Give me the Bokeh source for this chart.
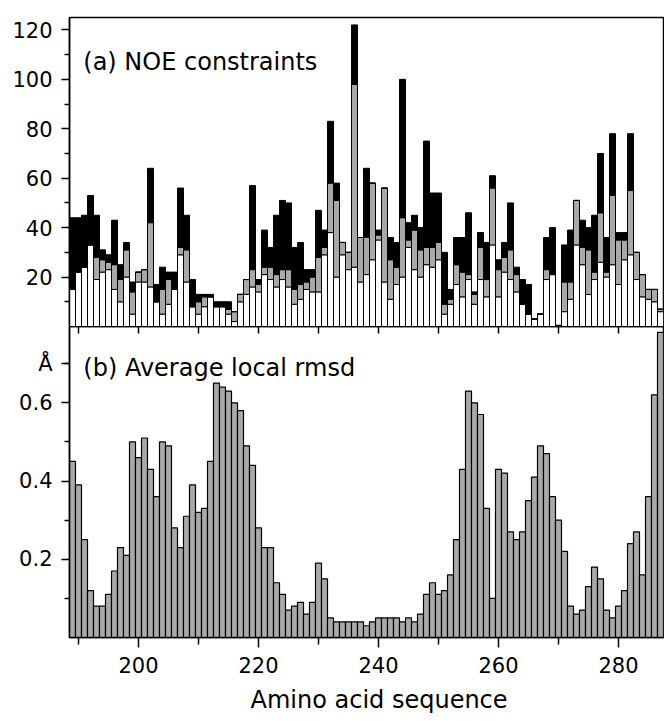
from bokeh.plotting import figure
from bokeh.layouts import column
from bokeh.models import FixedTicker, LinearAxis, Label, Title, Range1d, ColumnDataSource
from bokeh.embed import file_html
from bokeh.resources import INLINE

residues = list(range(189, 288))

noe_white = [15, 22, 24, 33, 19, 22, 23, 15, 10, 20,
             5, 18, 18, 16, 10, 5, 9, 15, 29, 18,
             8, 5, 8, 12, 8, 8, 5, 2, 10, 13,
             16, 14, 21, 19, 16, 19, 16, 9, 11, 15,
             14, 14, 29, 38, 20, 29, 23, 24, 18, 21,
             27, 35, 18, 11, 17, 20, 32, 23, 20, 25,
             24, 27, 5, 9, 17, 12, 19, 9, 19, 12,
             33, 12, 22, 19, 14, 9, 5, 3, 5, 19,
             21, 0, 6, 11, 33, 25, 13, 19, 26, 20,
             25, 17, 27, 29, 19, 12, 11, 10, 6]
noe_gray = [0, 0, 0, 0, 9, 5, 3, 10, 9, 11,
            9, 4, 5, 26, 0, 10, 10, 0, 3, 13,
            0, 5, 4, 0, 0, 0, 2, 4, 3, 6,
            7, 3, 3, 5, 5, 4, 7, 6, 6, 3,
            6, 14, 3, 20, 31, 5, 7, 74, 18, 15,
            31, 2, 38, 16, 7, 24, 3, 16, 11, 7,
            8, 7, 4, 2, 8, 10, 2, 4, 13, 7,
            23, 11, 6, 12, 7, 0, 0, 0, 0, 4,
            0, 0, 12, 7, 18, 7, 18, 3, 20, 2,
            28, 18, 8, 26, 11, 9, 4, 5, 1]
noe_black = [29, 22, 21, 20, 17, 4, 3, 18, 6, 3,
             4, 0, 0, 22, 7, 9, 3, 7, 24, 14,
             11, 3, 1, 1, 2, 2, 3, 0, 0, 0,
             34, 2, 15, 8, 24, 28, 27, 17, 17, 5,
             3, 19, 7, 25, 7, 0, 0, 24, 0, 28,
             0, 2, 0, 9, 10, 56, 7, 6, 9, 43,
             22, 20, 21, 4, 11, 14, 25, 1, 6, 15,
             5, 4, 6, 19, 3, 10, 12, 0, 0, 13,
             19, 0, 15, 21, 0, 11, 9, 23, 24, 14,
             25, 3, 3, 23, 0, 0, 0, 0, 0]

rmsd = [0.45, 0.39, 0.25, 0.12, 0.08, 0.08, 0.11, 0.17, 0.23, 0.21,
        0.50, 0.46, 0.51, 0.43, 0.36, 0.50, 0.49, 0.28, 0.23, 0.31,
        0.39, 0.32, 0.33, 0.45, 0.65, 0.64, 0.63, 0.60, 0.58, 0.49,
        0.44, 0.28, 0.23, 0.23, 0.14, 0.11, 0.07, 0.08, 0.09, 0.06,
        0.09, 0.19, 0.15, 0.05, 0.04, 0.04, 0.04, 0.04, 0.04, 0.03,
        0.04, 0.05, 0.05, 0.05, 0.05, 0.04, 0.05, 0.04, 0.06, 0.11,
        0.14, 0.11, 0.12, 0.16, 0.25, 0.43, 0.63, 0.60, 0.57, 0.33,
        0.10, 0.43, 0.42, 0.27, 0.25, 0.27, 0.35, 0.41, 0.49, 0.47,
        0.36, 0.30, 0.22, 0.08, 0.06, 0.07, 0.13, 0.18, 0.15, 0.07,
        0.05, 0.08, 0.12, 0.24, 0.27, 0.16, 0.36, 0.62, 0.78]

noe_ticks = [20, 40, 60, 80, 100, 120]
noe_minor = [10, 30, 50, 70, 90, 110]
rmsd_ticks = [0.2, 0.4, 0.6]
rmsd_unit_tick = 0.7
rmsd_minor = [0.1, 0.3, 0.5, 0.7]
x_ticks = [200, 220, 240, 260, 280]
x_minor = [190, 210, 230, 250, 270]
x_all = [190, 200, 210, 220, 230, 240, 250, 260, 270, 280]

FONT = "DejaVu Sans"
GRAY = "#a9a9a9"
INK = "black"

x_range = Range1d(188.5, 287.5)

# ---------- top panel ----------
p1 = figure(width=664, height=326, x_range=x_range, y_range=Range1d(0, 125),
            output_backend="svg", toolbar_location=None, x_axis_location=None,
            min_border_left=69, min_border_right=1, min_border_top=17, min_border_bottom=0)
src = ColumnDataSource(dict(x=residues, white=noe_white, gray=noe_gray, black=noe_black))
p1.vbar_stack(["white", "gray", "black"], x="x", width=1.0, source=src,
              fill_color=["white", GRAY, "black"], line_color="black", line_width=1)

# ---------- bottom panel ----------
p2 = figure(width=664, height=395, x_range=x_range, y_range=Range1d(0, 0.795),
            output_backend="svg", toolbar_location=None,
            min_border_left=69, min_border_right=1, min_border_top=0, min_border_bottom=0)
p2.vbar(x=residues, top=rmsd, width=1.0, fill_color=GRAY, line_color="black", line_width=1.2)

for p in (p1, p2):
    p.xgrid.visible = False
    p.ygrid.visible = False
    p.outline_line_color = "black"
    p.outline_line_width = 1.5
    p.background_fill_color = "white"
    p.border_fill_color = "white"
    ax = p.yaxis[0]
    ax.major_tick_out = 8
    ax.major_tick_in = 0
    ax.minor_tick_out = 5
    ax.minor_tick_in = 0
    ax.major_label_text_font = FONT
    ax.major_label_text_font_size = "21px"
    ax.major_label_text_color = INK
    ax.major_label_standoff = 9
    ax.axis_line_width = 1.5
    ax.axis_line_color = INK
    ax.major_tick_line_width = 1.5
    ax.minor_tick_line_width = 1.5
    ax.major_tick_line_color = INK
    ax.minor_tick_line_color = INK

p1.yaxis[0].ticker = FixedTicker(ticks=noe_ticks, minor_ticks=noe_minor)
p2.yaxis[0].ticker = FixedTicker(ticks=rmsd_ticks + [rmsd_unit_tick], minor_ticks=rmsd_minor)
p2.yaxis[0].major_label_overrides = {rmsd_unit_tick: "Å"}

xa = p2.xaxis[0]
xa.ticker = FixedTicker(ticks=x_ticks, minor_ticks=x_minor)
xa.major_tick_out = 10
xa.major_tick_in = 0
xa.minor_tick_out = 7
xa.minor_tick_in = 0
xa.major_label_text_font = FONT
xa.major_label_text_font_size = "21px"
xa.major_label_text_color = INK
xa.major_label_standoff = 9
xa.axis_line_width = 1.5
xa.axis_line_color = INK
xa.major_tick_line_width = 1.5
xa.minor_tick_line_width = 1.5
xa.major_tick_line_color = INK
xa.minor_tick_line_color = INK

top_axis = LinearAxis(ticker=FixedTicker(ticks=x_all), major_tick_in=7, major_tick_out=0,
                      minor_tick_in=0, minor_tick_out=0, major_label_text_font_size="0px",
                      major_label_text_color=None, major_label_text_alpha=0,
                      major_label_standoff=0, axis_line_width=1.5, major_tick_line_width=1.5,
                      axis_line_color=INK, major_tick_line_color=INK)
p2.add_layout(top_axis, "above")

p2.add_layout(Title(text="Amino acid sequence", align="left", offset=181,
                    text_font=FONT, text_font_size="24px", text_font_style="normal",
                    text_color=INK, standoff=16), "below")

p1.add_layout(Label(x=190.8, y=107, text="(a) NOE constraints", text_font=FONT,
                    text_font_size="24px", text_color=INK, text_baseline="alphabetic"))
p2.add_layout(Label(x=190.8, y=0.69, text="(b) Average local rmsd", text_font=FONT,
                    text_font_size="24px", text_color=INK, text_baseline="alphabetic"))

layout = column(p1, p2)
open("out.html", "w").write(file_html(layout, INLINE))
